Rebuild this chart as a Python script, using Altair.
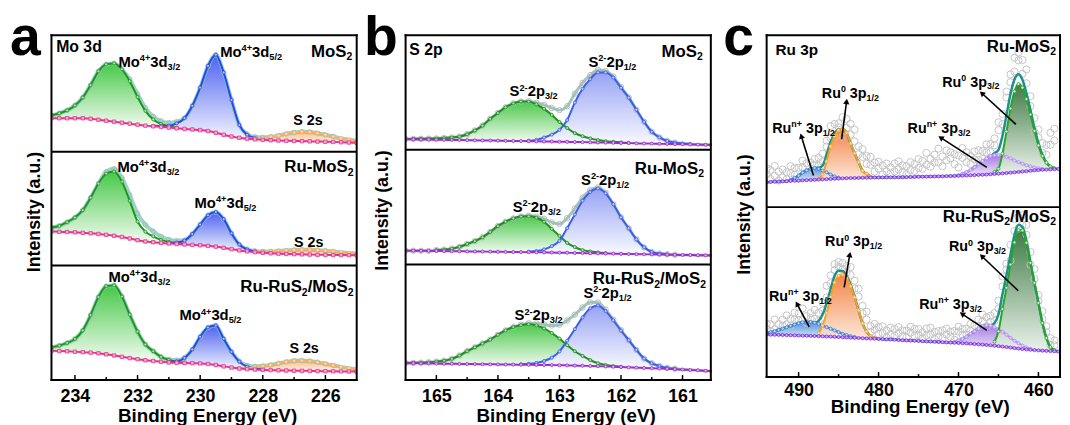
import math
import re
import altair as alt
import pandas as pd

FONT = "Liberation Sans"

# ------------------------------------------------------------------ panel a : Mo 3d
A_E = [234.75, 234.5, 234.25, 234.0, 233.75, 233.5, 233.25, 233.0, 232.75, 232.5,
       232.25, 232.0, 231.75, 231.5, 231.25, 231.0, 230.75, 230.5, 230.25, 230.0,
       229.75, 229.5, 229.25, 229.0, 228.75, 228.5, 228.25, 228.0, 227.75, 227.5,
       227.25, 227.0, 226.75, 226.5, 226.25, 226.0, 225.75, 225.5, 225.25, 225.0]

A1_BG = [265, 265, 265, 265, 265, 264.5, 263.5, 262.5, 261.5, 260.5,
         259.5, 258.5, 257.5, 256.8, 256.2, 255.5, 254.8, 254.2, 253.6, 253.0,
         252.0, 250.3, 248.3, 246.5, 245.2, 244.3, 243.6, 243.1, 242.7, 242.4,
         242.2, 242.0, 241.8, 241.6, 241.4, 241.2, 241.0, 240.7, 240.4, 240.1]
A1_GREEN = (234.75, [3, 5, 8, 13, 21, 34, 49, 57, 59, 54, 43, 28, 15, 7, 3, 1.5, 0.6])
A1_BLUE = (231.5, [0.5, 1, 2, 5, 11, 24, 43, 66, 79, 63, 37, 13, 4, 1.5, 0.5])
A1_ORANGE = (228.5, [0.5, 1, 2, 3.5, 5, 7, 8.5, 9.5, 9.5, 8.5, 7, 5.5, 4, 3, 2])
A1_EXTRA = (232.25, [2, 3, 3, 2.5, 2, 1.5, 1])

A2_BG = [150.3, 150, 149.8, 149.5, 149, 148.5, 147.8, 147, 146, 144.8,
         143.3, 141.5, 140.2, 139.5, 138.8, 138.2, 137.7, 137.2, 136.8, 136.4,
         135.8, 135, 133.8, 132.5, 131.2, 130.2, 129.4, 128.8, 128.3, 127.9,
         127.6, 127.4, 127.2, 127, 126.8, 126.7, 126.6, 126.5, 126.4, 126.3]
A2_GREEN = (234.75, [4, 6, 10, 15, 23, 36, 51, 62, 65, 56, 38, 19, 10, 6, 3, 1.5, 0.8, 0.3])
A2_BLUE = (231.0, [0.5, 1.5, 4, 11, 21, 31, 35, 29, 16, 6, 2, 0.8, 0.3])
A2_ORANGE = (228.25, [0.5, 1, 1.8, 2.7, 3.5, 4.3, 4.8, 5, 4.7, 4.2, 3.5, 2.8, 2.2, 1.6])
A2_EXTRA = (233.0, [2, 3, 4, 6, 8, 7, 5, 3.5, 2, 1])

A3_BG = [29.5, 29.3, 29, 28.6, 28.2, 27.7, 27, 26, 24.8, 23.5,
         22.2, 21, 20, 19.2, 18.4, 17.8, 17.4, 17.2, 17, 16.8,
         16.2, 15.2, 13.8, 12.6, 11.6, 11, 10.6, 10.3, 10, 9.8,
         9.6, 9.4, 9.3, 9.2, 9, 8.9, 8.8, 8.7, 8.6, 8.5]
A3_GREEN = (234.75, [3.5, 5.5, 8.5, 13, 22, 38, 57, 69, 71, 61, 44, 28, 16, 10, 5, 2.5, 1.2, 0.5])
A3_BLUE = (231.0, [0.5, 1.5, 5, 14, 27, 37, 40, 28, 16, 7, 2.5, 1, 0.3])
A3_ORANGE = (228.75, [0.5, 1.2, 2.2, 3.6, 5.2, 7, 8.8, 10, 10.5, 10, 9, 7.5, 6, 4.6, 3.4, 2.5])

A_TICKS_MAJOR = [234, 232, 230, 228, 226]
A_TICKS_MINOR = [233, 231, 229, 227]

A_LABELS = [
    (234.6, 332, "Mo 3d", 16, "left"),
    (232.61, 317, "Mo^{4+}3d_{3/2}", 15, "left"),
    (229.36, 327, "Mo^{4+}3d_{5/2}", 15, "left"),
    (225.14, 327, "MoS_{2}", 17, "right"),
    (227.03, 258, "S 2s", 14.5, "left"),
    (232.64, 210.3, "Mo^{4+}3d_{3/2}", 15, "left"),
    (225.1, 210.3, "Ru-MoS_{2}", 17, "right"),
    (230.18, 174, "Mo^{4+}3d_{5/2}", 15, "left"),
    (227.0, 135, "S 2s", 14.5, "left"),
    (232.93, 99, "Mo^{4+}3d_{3/2}", 15, "left"),
    (230.66, 60.3, "Mo^{4+}3d_{5/2}", 15, "left"),
    (225.1, 88.7, "Ru-RuS_{2}/MoS_{2}", 17, "right"),
    (227.15, 27, "S 2s", 14.5, "left"),
]

# ------------------------------------------------------------------ panel b : S 2p
B_E = [165.5, 165.375, 165.25, 165.125, 165.0, 164.875, 164.75, 164.625, 164.5, 164.375,
       164.25, 164.125, 164.0, 163.875, 163.75, 163.625, 163.5, 163.375, 163.25, 163.125,
       163.0, 162.875, 162.75, 162.625, 162.5, 162.375, 162.25, 162.125, 162.0, 161.875,
       161.75, 161.625, 161.5, 161.375, 161.25, 161.125, 161.0, 160.875, 160.75, 160.625, 160.5]

B1_BG = [243.7, 243.6, 243.5, 243.4, 243.2, 243.1, 243.0, 242.9, 242.8, 242.6,
         242.5, 242.4, 242.3, 242.1, 242.0, 241.9, 241.8, 241.6, 241.5, 241.4,
         241.2, 241.1, 240.9, 240.8, 240.6, 240.4, 240.3, 240.1, 239.9, 239.8,
         239.6, 239.4, 239.3, 239.1, 239.0, 238.8, 238.7, 238.5, 238.3, 238.2, 238.0]
B1_GREEN = (165.5, [0.3, 0.5, 0.7, 1, 1.3, 1.8, 2.5, 3.5, 6, 10, 15, 22, 28, 34, 38, 40, 40,
                    37.5, 33, 27, 20, 14, 9, 6, 4, 2.5, 1.5, 1, 0.6, 0.3])
B1_BLUE = (163.5, [0.5, 1.5, 4, 7, 12, 22, 40, 54, 64, 71, 71, 66, 56, 46, 34, 22, 12, 6.5,
                   3, 1.5, 0.8, 0.4])

B2_BG = [131.0, 130.9, 130.8, 130.7, 130.6, 130.5, 130.4, 130.3, 130.2, 130.1,
         130.0, 129.9, 129.8, 129.7, 129.6, 129.5, 129.4, 129.3, 129.2, 129.0,
         128.9, 128.8, 128.6, 128.5, 128.3, 128.2, 128.0, 127.9, 127.7, 127.6,
         127.4, 127.3, 127.1, 127.0, 126.9, 126.7, 126.6, 126.5, 126.3, 126.2, 126.0]
B2_GREEN = (165.0, [1, 1.5, 2.5, 4.5, 7.5, 10.5, 14.5, 20, 26, 30.5, 34, 36, 36.3, 35, 31, 24,
                    17, 10, 6, 3, 1.8, 1, 0.5])
B2_BLUE = (163.5, [0.5, 1.2, 3, 6.5, 12, 25, 39, 53, 62, 65.7, 61, 50, 37, 26, 15, 7, 2.5, 1, 0.4])

B3_BG = [17.0, 16.9, 16.8, 16.7, 16.6, 16.5, 16.4, 16.3, 16.2, 16.1,
         16.0, 15.9, 15.8, 15.7, 15.6, 15.5, 15.4, 15.3, 15.2, 15.1,
         15.0, 14.8, 14.6, 14.4, 14.2, 14.0, 13.7, 13.4, 13.1, 12.8,
         12.5, 12.2, 11.9, 11.6, 11.3, 11.0, 10.6, 10.2, 9.8, 9.3, 8.8]
B3_GREEN = (165.5, [0.3, 0.5, 0.8, 1.3, 2, 3, 5, 8.5, 13, 17, 21, 25, 30, 34.5, 38, 40, 41, 40,
                    37, 32.5, 27, 20.5, 14.5, 10, 6, 3, 1.5, 0.7, 0.3])
B3_BLUE = (163.625, [0.5, 1, 2, 4, 7.5, 14, 25, 37, 49, 58.5, 61.5, 56, 47, 37, 27.5, 18, 9.5,
                     5, 2.5, 1, 0.4])

B_TICKS_MAJOR = [165, 164, 163, 162, 161]
B_TICKS_MINOR = [164.5, 163.5, 162.5, 161.5]

B_LABELS = [
    (165.44, 328.7, "S 2p", 16, "left"),
    (160.67, 327, "MoS_{2}", 17, "right"),
    (162.53, 317, "S^{2-}2p_{1/2}", 15, "left"),
    (163.81, 287, "S^{2-}2p_{3/2}", 15, "left"),
    (160.65, 209, "Ru-MoS_{2}", 17, "right"),
    (162.65, 197, "S^{2-}2p_{1/2}", 15, "left"),
    (163.76, 170.3, "S^{2-}2p_{3/2}", 15, "left"),
    (160.62, 97, "Ru-RuS_{2}/MoS_{2}", 17, "right"),
    (162.61, 82.7, "S^{2-}2p_{1/2}", 15, "left"),
    (163.73, 60.3, "S^{2-}2p_{3/2}", 15, "left"),
]

# ------------------------------------------------------------------ panel c : Ru 3p
C_E = [494.0, 493.5, 493.0, 492.5, 492.0, 491.5, 491.0, 490.5, 490.0, 489.5,
       489.0, 488.5, 488.0, 487.5, 487.0, 486.5, 486.0, 485.5, 485.0, 484.5,
       484.0, 483.5, 483.0, 482.5, 482.0, 481.5, 481.0, 480.5, 480.0, 479.5,
       479.0, 478.5, 478.0, 477.5, 477.0, 476.5, 476.0, 475.5, 475.0, 474.5,
       474.0, 473.5, 473.0, 472.5, 472.0, 471.5, 471.0, 470.5, 470.0, 469.5,
       469.0, 468.5, 468.0, 467.5, 467.0, 466.5, 466.0, 465.5, 465.0, 464.5,
       464.0, 463.5, 463.0, 462.5, 462.0, 461.5, 461.0, 460.5, 460.0, 459.5,
       459.0, 458.5, 458.0, 457.5, 457.0]

C1_BG = [197.3, 197.5, 197.7, 197.9, 198.1, 198.3, 198.5, 198.7, 198.9, 199.1,
         199.3, 199.5, 199.7, 199.9, 200.1, 200.3, 200.5, 200.7, 200.9, 201.1,
         201.3, 201.4, 201.5, 201.6, 201.7, 201.8, 201.9, 202.0, 202.0, 202.1,
         202.1, 202.2, 202.2, 202.3, 202.3, 202.4, 202.5, 202.6, 202.7, 202.8,
         202.9, 203.0, 203.1, 203.2, 203.3, 203.4, 203.5, 203.6, 203.7, 203.85,
         204.0, 204.2, 204.4, 204.6, 204.8, 205.0, 205.3, 205.6, 205.9, 206.2,
         206.5, 206.9, 207.2, 207.6, 208.0, 208.4, 208.8, 209.2, 209.5, 209.8,
         210.0, 210.2, 210.4, 210.6, 210.7]
C1_BLUE = (491.0, [1, 3, 5, 8, 10, 11.5, 12, 11, 9, 7, 4.5, 2.5, 1])
C1_ORANGE = (487.5, [1, 5, 18, 33, 43, 49, 50, 46, 35, 25, 16, 7, 4, 1])
C1_PURPLE = (470.0, [0.5, 2, 3.5, 5.5, 8, 11, 14, 16.5, 18.5, 19, 19, 18, 16.5, 14.5, 12, 10,
                     8, 6, 4.5, 3, 2, 1])
C1_GREEN = (465.5, [2, 5, 20, 42, 65, 82, 89, 85, 73, 57, 40, 25, 14, 7, 3, 1])
C1_RAW_A = [8, 12, 6, 10, 4, 9, 7, 3, 8, 5,
            -2, 6, 9, 2, 12, 8, 4, 10, 6, 12,
            5, 9, 12, 16, 14, 18, 12, 15, 9, 12,
            6, 10, 14, 8, 5, 11, 7, 13, 9, 16,
            12, 18, 22, 14, 20, 26, 18, 12, 20, 16,
            10, 14, 8, 4, 10, 6, 12, 15, 20, 22,
            18, 12, 8, 14, 20, 10, 4, -4, 6, 12,
            18, 22, 28, 35, 30]
C1_RAW_B = [14, 3, 16, 1, 12, 2, 14, 10, -3, 12,
            7, -4, 3, 10, 4, 14, 16, -3, 2, -8,
            14, 20, 24, 8, 22, 10, 20, 6, 16, 3,
            14, 4, 6, 16, 12, 3, 15, 6, 18, 8,
            24, 10, 14, 28, 10, 16, 24, 22, 8, 26,
            20, 6, 16, 14, 2, 14, 4, 8, 28, 12,
            24, 20, 22, 22, 6, 24, 14, 10, 14, 2,
            8, 34, 40, 26, 38]

C2_BG = [43.0, 42.9, 42.8, 42.7, 42.5, 42.4, 42.3, 42.2, 42.0, 41.9,
         41.8, 41.7, 41.5, 41.4, 41.2, 41.0, 40.9, 40.7, 40.5, 40.3,
         40.1, 39.9, 39.7, 39.5, 39.3, 39.1, 39.0, 38.8, 38.6, 38.4,
         38.2, 38.0, 37.8, 37.5, 37.3, 37.1, 36.9, 36.7, 36.5, 36.3,
         36.1, 35.9, 35.7, 35.5, 35.3, 35.1, 34.9, 34.7, 34.5, 34.2,
         34.0, 33.7, 33.4, 33.1, 32.8, 32.5, 32.1, 31.7, 31.3, 30.8,
         30.3, 29.8, 29.3, 28.8, 28.4, 28.0, 27.6, 27.3, 27.0, 26.7,
         26.5, 26.3, 26.1, 25.9, 25.7]
C2_BLUE = (494.0, [1.5, 2.5, 3.5, 5, 6.5, 8, 9.5, 11, 12.5, 13.5, 14, 14, 13.5, 12.5, 11, 9.5,
                   8, 6.5, 5, 3.5, 2.5, 1.5, 0.8])
C2_ORANGE = (487.5, [3, 11, 24, 40, 55, 62, 63.5, 60, 52, 41, 28, 15, 7, 2.5, 1])
C2_PURPLE = (470.5, [1, 2.5, 4.5, 7, 10, 13, 16, 18.5, 20, 20, 19, 17, 15, 12.5, 10, 7.5, 5.5,
                     3.5, 2, 1])
C2_GREEN = (465.5, [4, 15, 38, 60, 84, 107, 120, 120, 108, 88, 68, 48, 28, 13, 4, 1])
C2_RAW_A = [4, 8, 2, 6, 9, 3, 7, 5, 10, 2,
            6, 9, 4, 8, 12, 6, 14, 6, 4, 8,
            3, 10, 16, 14, 18, 12, 10, 8, 12, 6,
            9, 5, 11, 7, 4, 10, 8, 12, 6, 9,
            13, 7, 10, 5, 12, 8, 6, 11, 9, 4,
            8, 3, 6, 2, 5, 8, 4, 10, 14, 8,
            6, 10, 4, 8, 2, 6, 10, 4, 8, 12,
            6, 9, 5, 8, 4]
C2_RAW_B = [10, 1, 12, -2, 3, 12, 0, 12, 3, 14,
            -1, 4, 13, 0, 4, 18, 6, 12, 9, 2,
            10, 18, 8, 22, 10, 20, 4, 14, 5, 13,
            2, 12, 4, 13, 10, 3, 14, 5, 12, 3,
            6, 14, 3, 11, 4, 14, 11, 2, 14, 10,
            2, 10, -2, 9, 12, -1, 10, 2, 6, 18,
            12, -6, 16, -4, 12, 16, -3, 14, 2, 4,
            12, 2, 10, 3, 9]

C_TICKS_MAJOR = [490, 480, 470, 460]
C_TICKS_MINOR = [485, 475, 465]

C_LABELS = [
    (492.89, 326.3, "Ru 3p", 15.5, "left"),
    (457.8, 329, "Ru-MoS_{2}", 17, "right"),
    (472.03, 294, "Ru^{0} 3p_{3/2}", 14.5, "left"),
    (487.1, 282.3, "Ru^{0} 3p_{1/2}", 14.5, "left"),
    (493.3, 247.3, "Ru^{n+} 3p_{1/2}", 14.5, "left"),
    (476.37, 247.3, "Ru^{n+} 3p_{3/2}", 14.5, "left"),
    (457.8, 157.3, "Ru-RuS_{2}/MoS_{2}", 17, "right"),
    (471.2, 127.3, "Ru^{0} 3p_{3/2}", 14.5, "left"),
    (486.69, 132.3, "Ru^{0} 3p_{1/2}", 14.5, "left"),
    (493.72, 77.3, "Ru^{n+} 3p_{1/2}", 14.5, "left"),
    (474.92, 69, "Ru^{n+} 3p_{3/2}", 14.5, "left"),
]
# arrows: tail (E, v) -> head (E, v)
C_ARROWS = [
    (488.14, 204, 489.67, 244),
    (484.62, 240.7, 484.0, 279),
    (466.46, 212.3, 472.23, 242.3),
    (462.82, 255.7, 467.08, 287.3),
    (488.68, 50.7, 490.2, 74),
    (484.3, 90.7, 483.6, 124),
    (466.46, 47.3, 469.56, 64),
    (462.53, 87.3, 467.08, 122.3),
]

# ------------------------------------------------------------------ styles
STYLE_A = {
    "green": dict(top="#36c436", bot="#f4fcf4", line="#1d961d", mfill="#a6e3a6"),
    "blue": dict(top="#3e54f0", bot="#f2f4ff", line="#2447f2", mfill="#b0bcff"),
    "orange": dict(top="#ffb47a", bot="#fff4ea", line="#ffae5c", mfill="#ffdcb8"),
}
STYLE_B = {
    "green": dict(top="#3cc43c", bot="#f4fcf4", line="#1f8f1f", mfill="#a6e0a6"),
    "blue": dict(top="#8e9bf4", bot="#f8f9ff", line="#3a5df2", mfill="#b8c4ff"),
}
STYLE_C = {
    "blue": dict(top="#3f87d8", bot="#dbe9f7", line="#3b7ed6", mfill="#bcd6f4"),
    "orange": dict(top="#f27a38", bot="#fde5d4", line="#f6a021", mfill="#ffd9a4"),
    "purple": dict(top="#9a6de0", bot="#eee4fb", line="#b98cf6", mfill="#e2cffb"),
    "green": dict(top="#2f6f36", bot="#e9f2e9", line="#26a426", mfill="#d4f0ca"),
}

GAP = 49.5  # space between panel slots

# W = framed width, slot = layout width (panel b gets blank room on its right)
PA = dict(grid=A_E, W=309, slot=309, H=349, domain=[225.0, 234.75], major=A_TICKS_MAJOR,
          minor=A_TICKS_MINOR, div=[231, 116], lp=8, tp=1, tx=157.5, ytp=8, yty=178.5,
          order=["green", "blue", "orange"], style=STYLE_A,
          bg=dict(color="#e6338c", mfill="#f7a9cf", shape="square", size=12),
          env=dict(color="#7cc4b4", width=4, opacity=0.75),
          raw=dict(color="#bcbcbc", size=22),
          labels=A_LABELS, letter="a", lx=-42,
          subs=[dict(bg=A1_BG, comps={"green": A1_GREEN, "blue": A1_BLUE, "orange": A1_ORANGE}, extra=A1_EXTRA),
                dict(bg=A2_BG, comps={"green": A2_GREEN, "blue": A2_BLUE, "orange": A2_ORANGE}, extra=A2_EXTRA),
                dict(bg=A3_BG, comps={"green": A3_GREEN, "blue": A3_BLUE, "orange": A3_ORANGE})],
          arrows=[])

PB = dict(grid=B_E, W=309, slot=316, H=349, domain=[160.428, 165.5], major=B_TICKS_MAJOR,
          minor=B_TICKS_MINOR, div=[233, 117], lp=8, tp=1, tx=162, ytp=14, yty=177,
          order=["green", "blue"], style=STYLE_B,
          bg=dict(color="#9a2fc6", mfill="#dcaaf0", shape="circle", size=10),
          env=dict(color="#94b8ae", width=3, opacity=0.85),
          raw=dict(color="#b8b8b8", size=30),
          labels=B_LABELS, letter="b", lx=-42,
          subs=[dict(bg=B1_BG, comps={"green": B1_GREEN, "blue": B1_BLUE}),
                dict(bg=B2_BG, comps={"green": B2_GREEN, "blue": B2_BLUE}),
                dict(bg=B3_BG, comps={"green": B3_GREEN, "blue": B3_BLUE})],
          arrows=[])

PC = dict(grid=C_E, W=297, slot=297, H=346, domain=[457.3, 494.0], major=C_TICKS_MAJOR,
          minor=C_TICKS_MINOR, div=[172], lp=5, tp=-2, tx=155, ytp=13, yty=181,
          order=["blue", "orange", "purple", "green"], style=STYLE_C,
          bg=dict(color="#7b2fe3", mfill="#caa8f6", shape="circle", size=10),
          env=dict(color="#1c8f8f", width=2.5, opacity=1),
          raw=dict(color="#c2c2c2", size=52),
          labels=C_LABELS, letter="c", lx=-44,
          subs=[dict(bg=C1_BG, comps={"blue": C1_BLUE, "orange": C1_ORANGE, "purple": C1_PURPLE, "green": C1_GREEN},
                     dev=[C1_RAW_A, C1_RAW_B]),
                dict(bg=C2_BG, comps={"blue": C2_BLUE, "orange": C2_ORANGE, "purple": C2_PURPLE, "green": C2_GREEN},
                     dev=[C2_RAW_A, C2_RAW_B])],
          arrows=C_ARROWS)

for _P in (PA, PB, PC):
    _P["pxpe"] = _P["slot"] / (_P["domain"][1] - _P["domain"][0])

# ------------------------------------------------------------------ helpers
CW = {"M": .833, "o": .611, " ": .278, "3": .556, "d": .611, "4": .556, "+": .584, "/": .278,
      "2": .556, "5": .556, "1": .556, "S": .667, "s": .556, "p": .611, "-": .333, "R": .722,
      "u": .611, "0": .556, "n": .611}


def twidth(t, size):
    return sum(CW.get(ch, 0.6) for ch in t) * size


def parse(markup):
    segs = []
    for m in re.finditer(r"\^\{([^}]*)\}|_\{([^}]*)\}|([^\^_]+)", markup):
        if m.group(1) is not None:
            segs.append((m.group(1), "sup"))
        elif m.group(2) is not None:
            segs.append((m.group(2), "sub"))
        else:
            segs.append((m.group(3), "n"))
    return segs


def label_frame(P):
    rows = []
    for (E, v, markup, size, align) in P["labels"]:
        segs = parse(markup)
        small = round(size * 0.62, 2)
        ws = [twidth(t, size if k == "n" else small) for t, k in segs]
        off = 0.0 if align == "left" else -sum(ws)
        for (t, k), w in zip(segs, ws):
            sz = size if k == "n" else small
            dv = 0 if k == "n" else (0.40 * size if k == "sup" else -0.20 * size)
            lead = len(t) - len(t.lstrip(" "))
            o = off + lead * CW[" "] * sz
            rows.append({"E": E - o / P["pxpe"], "v": v + dv, "t": t.strip(), "s": sz})
            off += w
    return pd.DataFrame(rows)


def frames(P):
    grid = P["grid"]
    lo, hi = P["domain"]
    comp_rows = {n: [] for n in P["order"]}
    env_rows, bg_rows, raw_rows = [], [], []
    for s, sub in enumerate(P["subs"]):
        bg = sub["bg"]
        assert len(bg) == len(grid), (P["letter"], s, len(bg))
        total = [0.0] * len(grid)
        for name, (start, vals) in sub["comps"].items():
            k = grid.index(start)
            for j, h in enumerate(vals):
                i = k + j
                if grid[i] >= lo:
                    comp_rows[name].append({"sub": s, "E": grid[i], "base": bg[i], "top": bg[i] + h})
                total[i] += h
        if sub.get("extra"):
            start, vals = sub["extra"]
            k = grid.index(start)
            for j, h in enumerate(vals):
                total[k + j] += h
        devs = sub.get("dev")
        if devs:
            for d in devs:
                assert len(d) == len(grid)
        for i, e in enumerate(grid):
            if e < lo:
                continue  # outside the framed energy window
            env = bg[i] + total[i]
            env_rows.append({"sub": s, "E": e, "y": env})
            bg_rows.append({"sub": s, "E": e, "y": bg[i]})
            if e - lo < 0.6:
                continue  # keep open circles inside the frame
            if devs:
                for d in devs:
                    raw_rows.append({"sub": s, "E": e, "y": env + d[i]})
            else:
                raw_rows.append({"sub": s, "E": e, "y": env})
    return ({n: pd.DataFrame(r) for n, r in comp_rows.items()}, pd.DataFrame(env_rows),
            pd.DataFrame(bg_rows), pd.DataFrame(raw_rows))


def column(P):
    W, H, S = P["W"], P["H"], P["slot"]
    xs = alt.Scale(domain=P["domain"], reverse=True, nice=False, zero=False)
    ys = alt.Scale(domain=[0, H], nice=False, zero=False)
    xax = alt.Axis(values=P["major"], format="d", title="Binding Energy (eV)", grid=False,
                   domain=False, ticks=False, tickSize=0, labelPadding=P["lp"],
                   titlePadding=P["tp"], titleX=P["tx"], labelFontSize=18, titleFontSize=19,
                   labelFlush=False, labelOverlap=False)
    yax = alt.Axis(title="Intensity (a.u.)", labels=False, ticks=False, tickSize=0, domain=False,
                   grid=False, titlePadding=P["ytp"], titleY=P["yty"], titleFontSize=18)

    def X(f):
        return alt.X(f, type="quantitative", scale=xs, axis=xax)

    def Y(f):
        return alt.Y(f, type="quantitative", scale=ys, axis=yax)

    one = pd.DataFrame({"k": [0]})
    comp, env, bgd, raw = frames(P)
    layers = []
    for name in P["order"]:
        st = P["style"][name]
        grad = {"gradient": "linear", "x1": 0, "x2": 0, "y1": 0, "y2": 1,
                "stops": [{"offset": 0, "color": st["top"]}, {"offset": 1, "color": st["bot"]}]}
        layers.append(alt.Chart(comp[name]).mark_area(
            interpolate="monotone", color=grad, opacity=0.92, clip=True).encode(
            x=X("E"), y=Y("top"), y2=alt.Y2("base"), detail="sub:N"))
    rs = P["raw"]
    layers.append(alt.Chart(raw).mark_point(
        shape="circle", filled=False, color=rs["color"], size=rs["size"], strokeWidth=1,
        opacity=0.95, clip=True).encode(x=X("E"), y=Y("y")))
    es = P["env"]
    layers.append(alt.Chart(env).mark_line(
        interpolate="monotone", color=es["color"], strokeWidth=es["width"], opacity=es["opacity"],
        clip=True).encode(x=X("E"), y=Y("y"), detail="sub:N"))
    for name in P["order"]:
        st = P["style"][name]
        layers.append(alt.Chart(comp[name]).mark_line(
            interpolate="monotone", color=st["line"], strokeWidth=2, clip=True,
            point=alt.OverlayMarkDef(filled=True, fill=st["mfill"], stroke=st["line"],
                                     strokeWidth=0.8, size=10, clip=True)).encode(
            x=X("E"), y=Y("top"), detail="sub:N"))
    bs = P["bg"]
    layers.append(alt.Chart(bgd).mark_line(
        interpolate="monotone", color=bs["color"], strokeWidth=2, clip=True,
        point=alt.OverlayMarkDef(filled=True, shape=bs["shape"], fill=bs["mfill"], stroke=bs["color"],
                                 strokeWidth=0.8, size=bs["size"], clip=True)).encode(
        x=X("E"), y=Y("y"), detail="sub:N"))
    if P["arrows"]:
        rows = []
        for (e1, v1, e2, v2) in P["arrows"]:
            dxs = (e1 - e2) * P["pxpe"]
            dys = -(v2 - v1)
            ang = math.degrees(math.atan2(dxs, -dys)) % 360
            rows.append({"E": e1, "v": v1, "E2": e2, "v2": v2, "ang": ang})
        adf = pd.DataFrame(rows)
        layers.append(alt.Chart(adf).mark_rule(color="black", strokeWidth=1.6, clip=True).encode(
            x=X("E"), x2=alt.X2("E2"), y=Y("v"), y2=alt.Y2("v2")))
        layers.append(alt.Chart(adf).mark_point(
            shape="triangle-up", filled=True, color="black", size=40, opacity=1, clip=True).encode(
            x=X("E2"), y=Y("v2"), angle=alt.Angle("ang:Q", scale=None)))
    layers.append(alt.Chart(label_frame(P)).mark_text(
        align="left", baseline="alphabetic", font=FONT, fontWeight="bold", color="black",
        clip=True).encode(x=X("E"), y=Y("v"), text="t:N", size=alt.Size("s:Q", scale=None)))
    if S > W:
        # blank the unused room to the right of a narrower frame
        layers.append(alt.Chart(one).mark_rect(color="white").encode(
            x=alt.value(W + 1), x2=alt.value(S), y=alt.value(-1), y2=alt.value(H + 1)))
    # sub-panel dividers
    layers.append(alt.Chart(pd.DataFrame({"v": P["div"]})).mark_rule(
        color="black", strokeWidth=2).encode(y=Y("v"), x=alt.value(0), x2=alt.value(W)))
    # frame
    layers.append(alt.Chart(one).mark_rule(color="black", strokeWidth=2, strokeCap="square").encode(
        x=alt.value(0), x2=alt.value(W), y=alt.value(0)))
    layers.append(alt.Chart(one).mark_rule(color="black", strokeWidth=2, strokeCap="square").encode(
        x=alt.value(0), x2=alt.value(W), y=alt.value(H)))
    layers.append(alt.Chart(one).mark_rule(color="black", strokeWidth=2, strokeCap="square").encode(
        x=alt.value(0), y=alt.value(0), y2=alt.value(H)))
    layers.append(alt.Chart(one).mark_rule(color="black", strokeWidth=2, strokeCap="square").encode(
        x=alt.value(W), y=alt.value(0), y2=alt.value(H)))
    # inward ticks
    layers.append(alt.Chart(pd.DataFrame({"E": P["major"]})).mark_rule(
        color="black", strokeWidth=1.5).encode(x=X("E"), y=alt.value(H), y2=alt.value(H - 5)))
    layers.append(alt.Chart(pd.DataFrame({"E": P["minor"]})).mark_rule(
        color="black", strokeWidth=1.5).encode(x=X("E"), y=alt.value(H), y2=alt.value(H - 3)))
    # panel letter
    layers.append(alt.Chart(pd.DataFrame({"t": [P["letter"]]})).mark_text(
        align="left", baseline="alphabetic", font=FONT, fontWeight="bold", fontSize=56,
        color="black").encode(text="t:N", x=alt.value(P["lx"]), y=alt.value(20)))
    return alt.layer(*layers).properties(width=S, height=H)


chart = alt.hconcat(column(PA), column(PB), column(PC), spacing=GAP, bounds="flush").properties(
    padding={"left": 2, "top": 0, "right": 0, "bottom": 0}
).configure_view(strokeWidth=0, stroke="transparent").configure_axis(
    labelFont=FONT, titleFont=FONT, labelFontWeight="bold", titleFontWeight="bold",
    labelColor="black", titleColor="black")

chart.save("out.html", embed_options={"renderer": "svg", "actions": False})
